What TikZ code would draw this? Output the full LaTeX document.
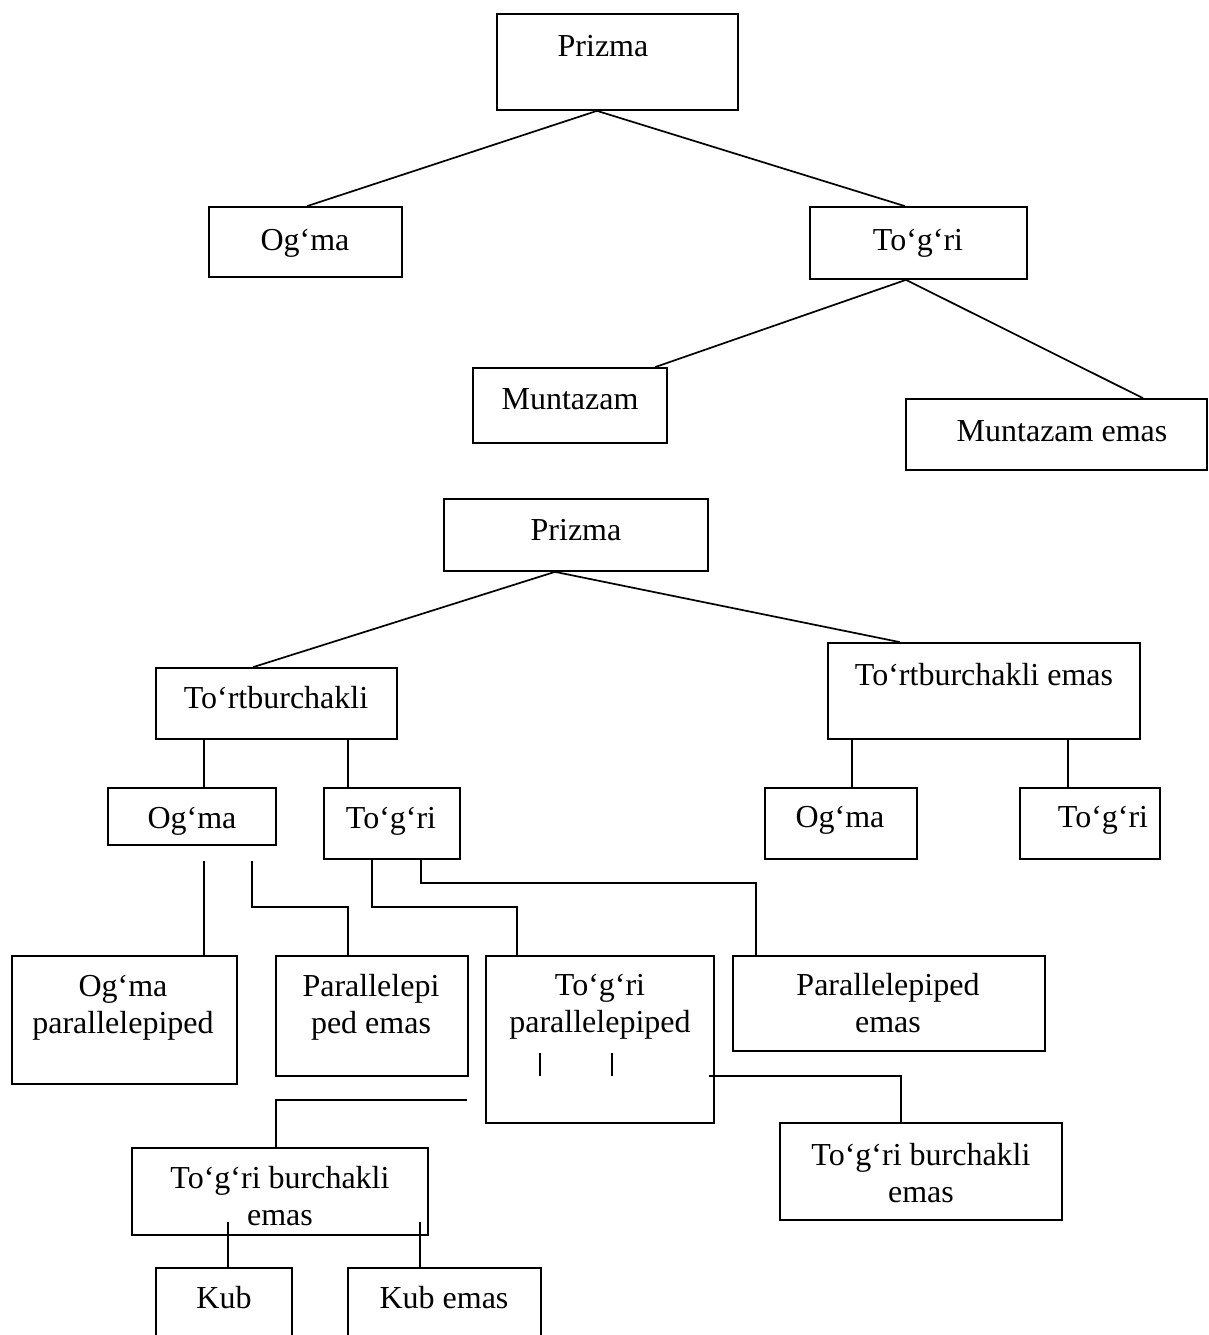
\documentclass[tikz,border=0pt]{standalone}
\usepackage{fontspec}
\setmainfont{Liberation Serif}
\usetikzlibrary{fit}
\begin{document}
\begin{tikzpicture}[x=0.5pt,y=-0.5pt,
  box/.style={draw, line width=0.85pt, inner sep=0pt},
  txt/.style={font=\fontsize{16}{18.5}\selectfont, inner sep=0pt, anchor=base},
  conn/.style={line width=0.85pt},
  bar/.style={line width=0.6pt}]
\fill[white] (0,0) rectangle (1209,1335);
\useasboundingbox (0,0) rectangle (1209,1335);
\newcommand{\twol}[2]{\begin{tabular}[t]{@{}c@{}}#1\\#2\end{tabular}}

% ---------- upper tree ----------
\node[box, fit={(497,14) (738,110)}] (p1) {};
\node[box, fit={(209,207) (402,277)}] (og1) {};
\node[box, fit={(810,207) (1027,279)}] (tg1) {};
\node[box, fit={(473,368) (667,443)}] (mu) {};
\node[box, fit={(906,399) (1207,470)}] (me) {};

\node[txt] (p1t) at (603,56) {Prizma};
\node[txt] (og1t) at (305,250) {Og‘ma};
\node[txt] (tg1t) at (918,250) {To‘g‘ri};
\node[txt] (mut) at (570,409) {Muntazam};
\node[txt] (met) at (1062,441) {Muntazam emas};

\draw[conn] ([xshift=-10.25pt]p1.south) -- ([xshift=0.75pt]og1.north);
\draw[conn] ([xshift=-10.25pt]p1.south) -- ([xshift=-6.75pt]tg1.north);
\draw[conn] ([xshift=-6.25pt]tg1.south) -- ([xshift=42.5pt]mu.north);
\draw[conn] ([xshift=-6.25pt]tg1.south) -- ([xshift=43.25pt]me.north);

% ---------- lower tree ----------
\node[box, fit={(444,499) (708,571)}] (p2) {};
\node[box, fit={(156,668) (397,739)}] (tb) {};
\node[box, fit={(828,643) (1140,739)}] (tbe) {};
\node[box, fit={(108,788) (276,845)}] (og2) {};
\node[box, fit={(324,788) (460,859)}] (tg2) {};
\node[box, fit={(765,788) (917,859)}] (og3) {};
\node[box, fit={(1020,788) (1160,859)}] (tg3) {};
\node[box, fit={(12,956) (237,1084)}] (op) {};
\node[box, fit={(276,956) (468,1076)}] (pe) {};
\node[box, fit={(486,956) (714,1123)}] (tp) {};
\node[box, fit={(733,956) (1045,1051)}] (pe2) {};
\node[box, fit={(132,1148) (428,1235)}] (tbl) {};
\node[box, fit={(780,1123) (1062,1220)}] (tbr) {};
\node[box, fit={(156,1268) (292,1350)}] (kub) {};
\node[box, fit={(348,1268) (541,1350)}] (kube) {};

\node[txt] (p2t) at (576,540) {Prizma};
\node[txt] (tbt) at (276,708) {To‘rtburchakli};
\node[txt] (tbet) at (984,685) {To‘rtburchakli emas};
\node[txt] (og2t) at (192,828) {Og‘ma};
\node[txt] (tg2t) at (391,828) {To‘g‘ri};
\node[txt] (og3t) at (840,827) {Og‘ma};
\node[txt] (tg3t) at (1103,827) {To‘g‘ri};
\node[txt] (opt) at (123,996) {\twol{Og‘ma}{parallelepiped}};
\node[txt] (pet) at (371,996) {\twol{Parallelepi}{ped emas}};
\node[txt] (tpt) at (600,995) {\twol{To‘g‘ri}{parallelepiped}};
\node[txt] (pe2t) at (888,995) {\twol{Parallelepiped}{emas}};
\node[txt] (tblt) at (280,1188) {\twol{To‘g‘ri burchakli}{emas}};
\node[txt] (tbrt) at (921,1165) {\twol{To‘g‘ri burchakli}{emas}};
\node[txt] (kubt) at (224,1308) {Kub};
\node[txt] (kubet) at (444,1308) {Kub emas};

% helper coordinates
\coordinate (v204) at (204,0);
\coordinate (v348) at (348,0);
\coordinate (v852) at (852,0);
\coordinate (v1068) at (1068,0);
\coordinate (v252) at (252,0);
\coordinate (v372) at (372,0);
\coordinate (v421) at (421,0);
\coordinate (v517) at (517,0);
\coordinate (v756) at (756,0);
\coordinate (v276) at (276,0);
\coordinate (v901) at (901,0);
\coordinate (v228) at (228,0);
\coordinate (v420) at (420,0);
\coordinate (h907) at (0,907);
\coordinate (h883) at (0,883);
\coordinate (h1100) at (0,1100);
\coordinate (h1076) at (0,1076);
\coordinate (og2gap) at ([yshift=-7.5pt]og2.south);
\coordinate (tpW) at ([xshift=-9pt]tp.west);
\coordinate (tpE) at ([xshift=-3pt]tp.east);
\coordinate (tblIn) at ([yshift=7pt]tbl.south);

\draw[conn] ([xshift=-10.5pt]p2.south) -- ([xshift=-11.75pt]tb.north);
\draw[conn] ([xshift=-10.5pt]p2.south) -- ([xshift=-42pt]tbe.north);
\draw[conn] (tb.south -| v204) -- (og2.north -| v204);
\draw[conn] (tb.south -| v348) -- (tg2.north -| v348);
\draw[conn] (tbe.south -| v852) -- (og3.north -| v852);
\draw[conn] (tbe.south -| v1068) -- (tg3.north -| v1068);
\draw[conn] (og2gap -| v204) -- (op.north -| v204);
\draw[conn] (og2gap -| v252) -- (h907 -| v252) -- (h907 -| v348) -- (pe.north -| v348);
\draw[conn] (tg2.south -| v372) -- (h907 -| v372) -- (h907 -| v517) -- (tp.north -| v517);
\draw[conn] (tg2.south -| v421) -- (h883 -| v421) -- (h883 -| v756) -- (pe2.north -| v756);
\draw[conn] (tpW |- h1100) -- (h1100 -| v276) -- (tbl.north -| v276);
\draw[conn] (tpE |- h1076) -- (h1076 -| v901) -- (tbr.north -| v901);
\draw[conn] (tblIn -| v228) -- (kub.north -| v228);
\draw[conn] (tblIn -| v420) -- (kube.north -| v420);

% the two small bars inside "To'g'ri parallelepiped"
\coordinate (b1) at (540,1053);
\coordinate (b2) at (612,1053);
\draw[bar] (b1) -- ++(0,23);
\draw[bar] (b2) -- ++(0,23);
\end{tikzpicture}
\end{document}
